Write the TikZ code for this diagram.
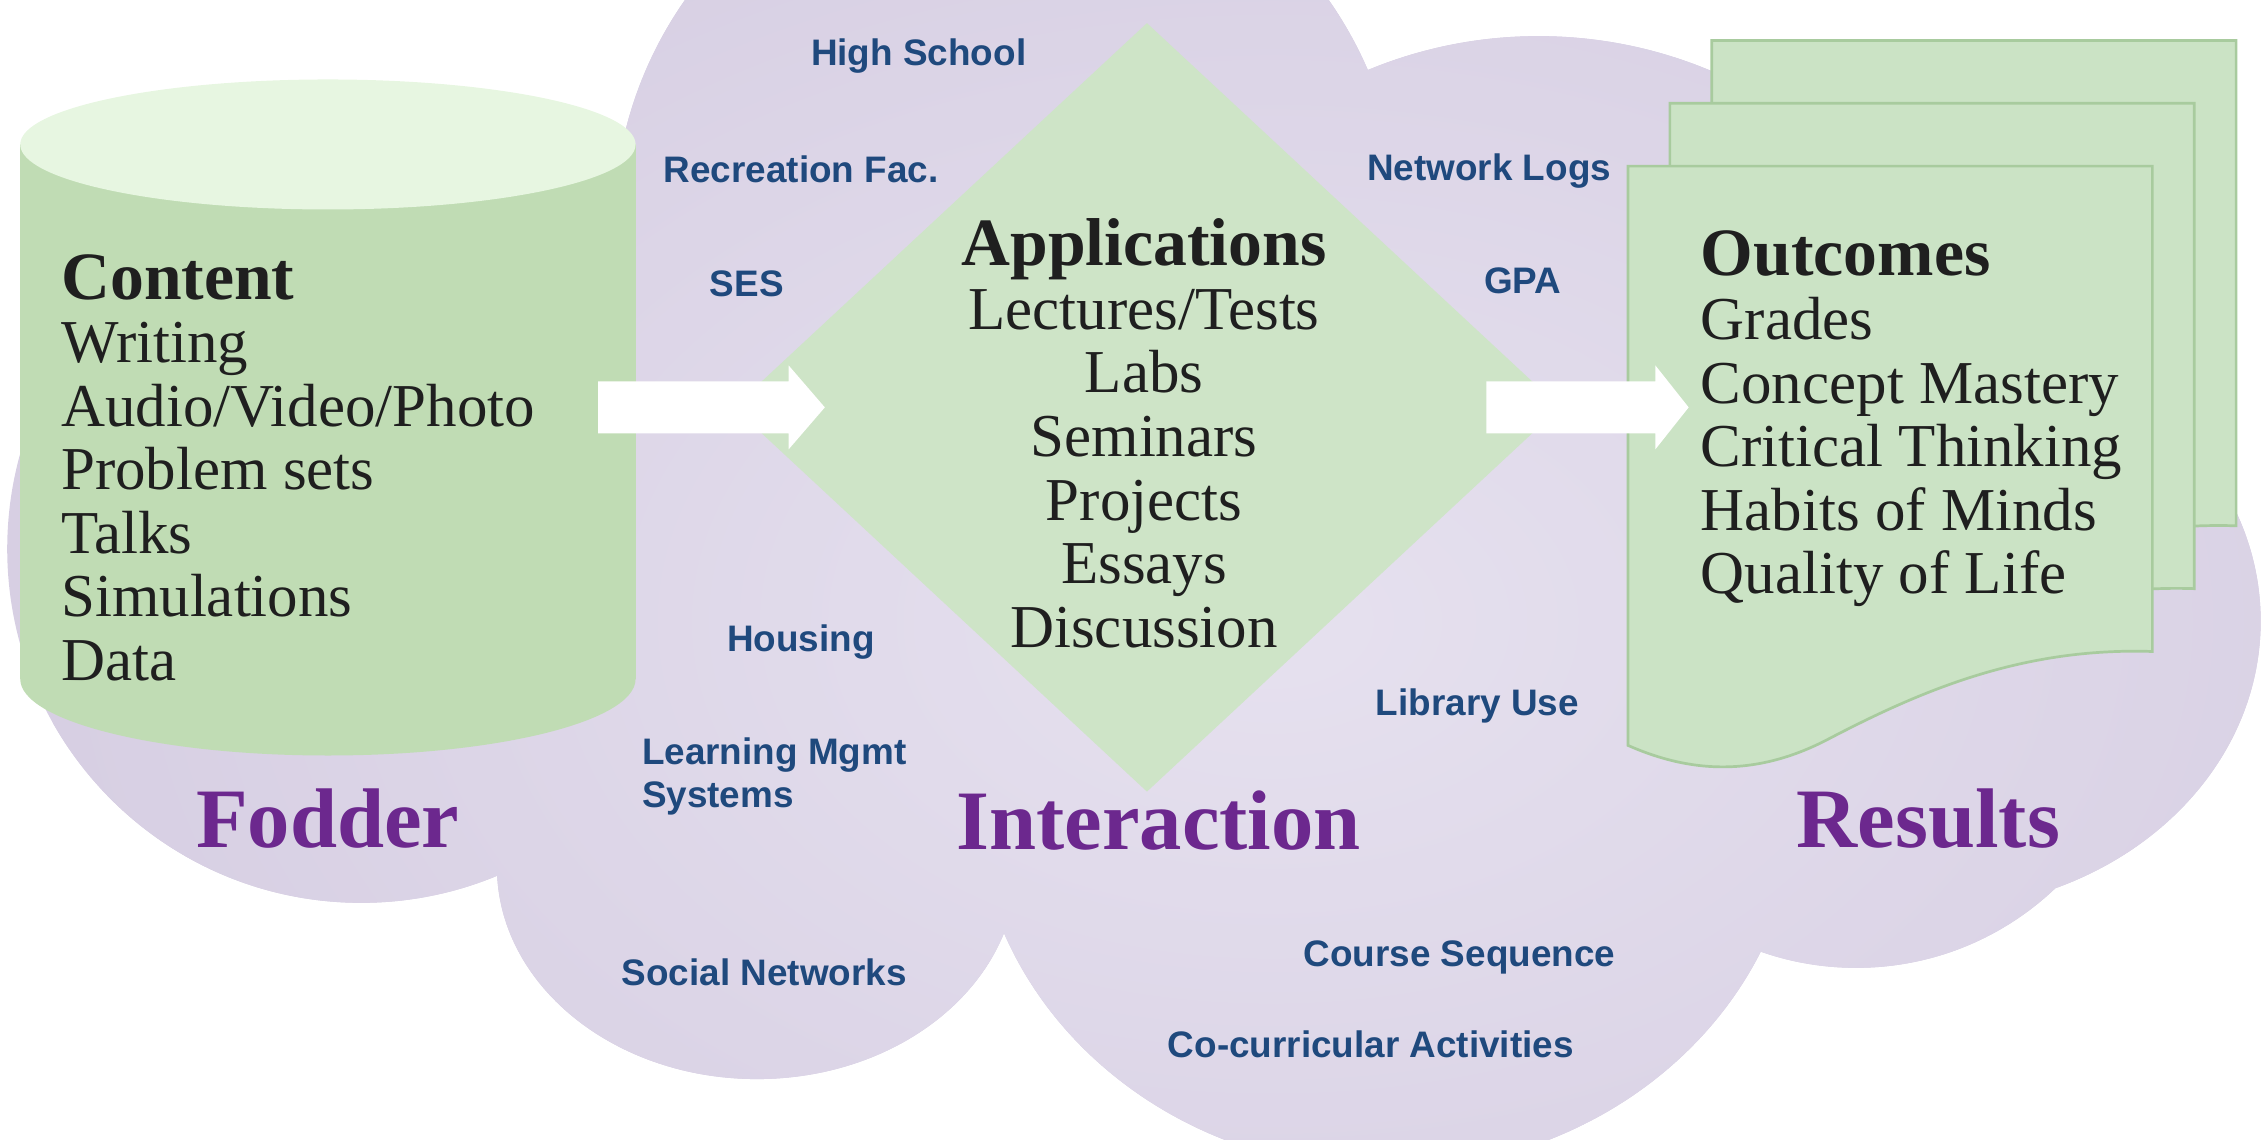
\documentclass[tikz,border=0pt]{standalone}
\usepackage{fontspec}
\setmainfont{Liberation Serif}
\newfontfamily\labelfont{Liberation Sans}
\usepackage{color}
\definecolor{cloudlilac}{RGB}{215,207,227}
\definecolor{cloudpale}{RGB}{230,225,239}
\definecolor{cylbody}{RGB}{192,220,180}
\definecolor{cyltop}{RGB}{231,246,225}
\definecolor{appgreen}{RGB}{206,228,199}
\definecolor{sheetgreen}{RGB}{203,227,197}
\definecolor{sheetedge}{RGB}{168,203,158}
\definecolor{stagepurple}{RGB}{108,40,142}
\definecolor{factorblue}{RGB}{31,73,125}
\colorlet{ink}{black!88}

\tikzset{
  listitem/.style={font=\fontsize{18}{22}\selectfont, text=ink, inner sep=0pt},
  heading/.style={font=\fontsize{20}{24}\selectfont\bfseries, text=ink, inner sep=0pt},
  stage/.style={font=\fontsize{25}{30}\selectfont\bfseries, text=stagepurple, inner sep=0pt},
  factor/.style={font=\labelfont\bfseries\fontsize{10.9}{12.8}\selectfont, text=factorblue, inner sep=0pt, align=left},
  sheet/.style={fill=sheetgreen, draw=sheetedge, line width=0.8pt},
  flowarrow/.style={fill=white}
}

\begin{document}
\begin{tikzpicture}[x=0.15mm, y=-0.15mm]
        \useasboundingbox (0,0) rectangle (1568,789);
        % the cloud
        \begin{scope}
            \clip (250,380) ellipse [x radius=245, y radius=245]
                  (524,600) ellipse [x radius=180, y radius=147]
                  (697,156) circle [radius=272]
                  (1065,333) circle [radius=308]
                  (1335,430) ellipse [x radius=230, y radius=200]
                  (1285,470) circle [radius=200]
                  (960,550) ellipse [x radius=285, y radius=260]
                  (800,420) ellipse [x radius=520, y radius=200];
            \fill[cloudlilac] (0,0) rectangle (1568,789);
            \shade[inner color=cloudpale, outer color=cloudlilac] (880,430) ellipse [x radius=850, y radius=560];
        \end{scope}
        % database
        \fill[cylbody] (227,470) ellipse [x radius=213, y radius=53];
        \fill[cylbody] (14,100) rectangle (440,470);
        \fill[cyltop] (227,100) ellipse [x radius=213, y radius=45];
        % applications
        \fill[appgreen] (794,16) -- (1080,282) -- (794,548) -- (508,282) -- cycle;
        % outcome sheets
        \foreach \sx/\sy in {58/-87, 29/-43.5, 0/0}{
            \filldraw[sheet, shift={(\sx,\sy)}] (1127,115) -- (1490,115) -- (1490,451)
                .. controls (1400,448) and (1330,478) .. (1265,512)
                .. controls (1215,538) and (1170,535) .. (1127,516) -- cycle;
        }
        % flow arrows
        \coordinate (fodderout) at (414,282);
        \coordinate (appin) at (571,282);
        \coordinate (appout) at (1029,282);
        \coordinate (resultsin) at (1169,282);
        \fill[flowarrow] (fodderout) ++(0,-18) -- ++(132,0) -- ++(0,-11) -- (appin)
            -- ++(-25,29) -- ++(0,-11) -- ++(-132,0) -- cycle;
        \fill[flowarrow] (appout) ++(0,-18) -- ++(117,0) -- ++(0,-11) -- (resultsin)
            -- ++(-23,29) -- ++(0,-11) -- ++(-117,0) -- cycle;
        % texts
        \node[heading, anchor=base west] (content) at (42,207) {Content};
        \foreach \entry [count=\i] in {Writing, Audio/Video/Photo, Problem sets, Talks, Simulations, Data}{
            \node[listitem, anchor=base west] (fodder\i) at (42,207+44*\i) {\entry};
        }
        \node[heading, anchor=base] (applications) at (792,184) {Applications};
        \foreach \entry [count=\i] in {Lectures/Tests, Labs, Seminars, Projects, Essays, Discussion}{
            \node[listitem, anchor=base] (app\i) at (792,184+44*\i) {\entry};
        }
        \node[heading, anchor=base west] (outcomes) at (1177,191) {Outcomes};
        \foreach \entry [count=\i] in {Grades, Concept Mastery, Critical Thinking, Habits of Minds, Quality of Life}{
            \node[listitem, anchor=base west] (outcome\i) at (1177,191+44*\i) {\entry};
        }
        \node[stage, anchor=base] (fodder) at (227,587) {Fodder};
        \node[stage, anchor=base] (interaction) at (802,588) {Interaction};
        \node[stage, anchor=base] (results) at (1335,587) {Results};
        \foreach \x/\y/\txt [count=\k] in {561/45/High School, 459/126/Recreation Fac., 491/205/SES,
                946/125/Network Logs, 1027/203/GPA, 503/451/Housing, 952/495/Library Use,
                430/682/Social Networks, 902/669/Course Sequence, 808/732/Co-curricular Activities}{
            \node[factor, anchor=base west] (factor\k) at (\x,\y) {\txt};
        }
        \node[factor, anchor=north west] (lms) at (444,510) {Learning Mgmt\\Systems};
\end{tikzpicture}
\end{document}
